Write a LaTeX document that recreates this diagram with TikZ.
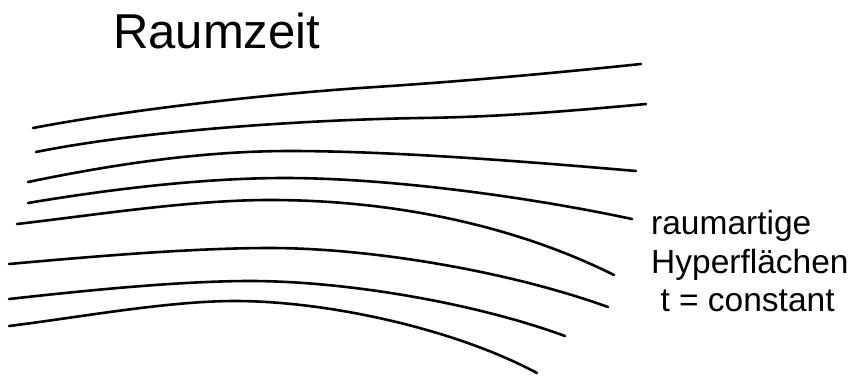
\documentclass[tikz,border=0pt]{standalone}
\usepackage{fontspec}
\setmainfont{Liberation Sans}
\begin{document}
\begin{tikzpicture}[x=1pt,y=-1pt,
  surf/.style={line width=2.6pt, line cap=round},
  lbl/.style={anchor=base west, inner sep=0pt, font=\fontsize{33.5}{40}\selectfont},
  ttl/.style={anchor=base west, inner sep=0pt, font=\fontsize{49}{58}\selectfont}]
\useasboundingbox (0,0) rectangle (855,376);
\draw[surf] (33,128) .. controls (130,109.5) and (261,95) .. (360,88) .. controls (455,82) and (545,74) .. (641,64);
\draw[surf] (36,152) .. controls (140,131) and (300,120) .. (420,118) .. controls (500,117) and (570,111) .. (646,104);
\draw[surf] (28,182) .. controls (110,165) and (200,151) .. (290,151) .. controls (394,151) and (532,162) .. (636,171);
\draw[surf] (28,203) .. controls (105,190) and (200,178) .. (285,178) .. controls (390,178) and (529,197) .. (632,219);
\draw[surf] (17,224) .. controls (95,215) and (190,200) .. (270,200) .. controls (400,200) and (520,228) .. (614,275);
\draw[surf] (9,264) .. controls (87,257) and (190,248) .. (270,248) .. controls (373,248) and (511,272) .. (608,307);
\draw[surf] (9,299) .. controls (81,291) and (178,281) .. (250,281) .. controls (346,281) and (475,303) .. (565,336);
\draw[surf] (9,326) .. controls (76.5,317.7) and (167,301) .. (235,301) .. controls (328,301) and (455,329) .. (537,373);
\node[ttl] (title) at (113,48) {Raumzeit};
\node[lbl] (l1) at (651,234) {raumartige};
\node[lbl] (l2) at (651,273) {Hyperflächen};
\node[lbl] (l3) at (651,311) {\ t = constant};
\end{tikzpicture}
\end{document}
